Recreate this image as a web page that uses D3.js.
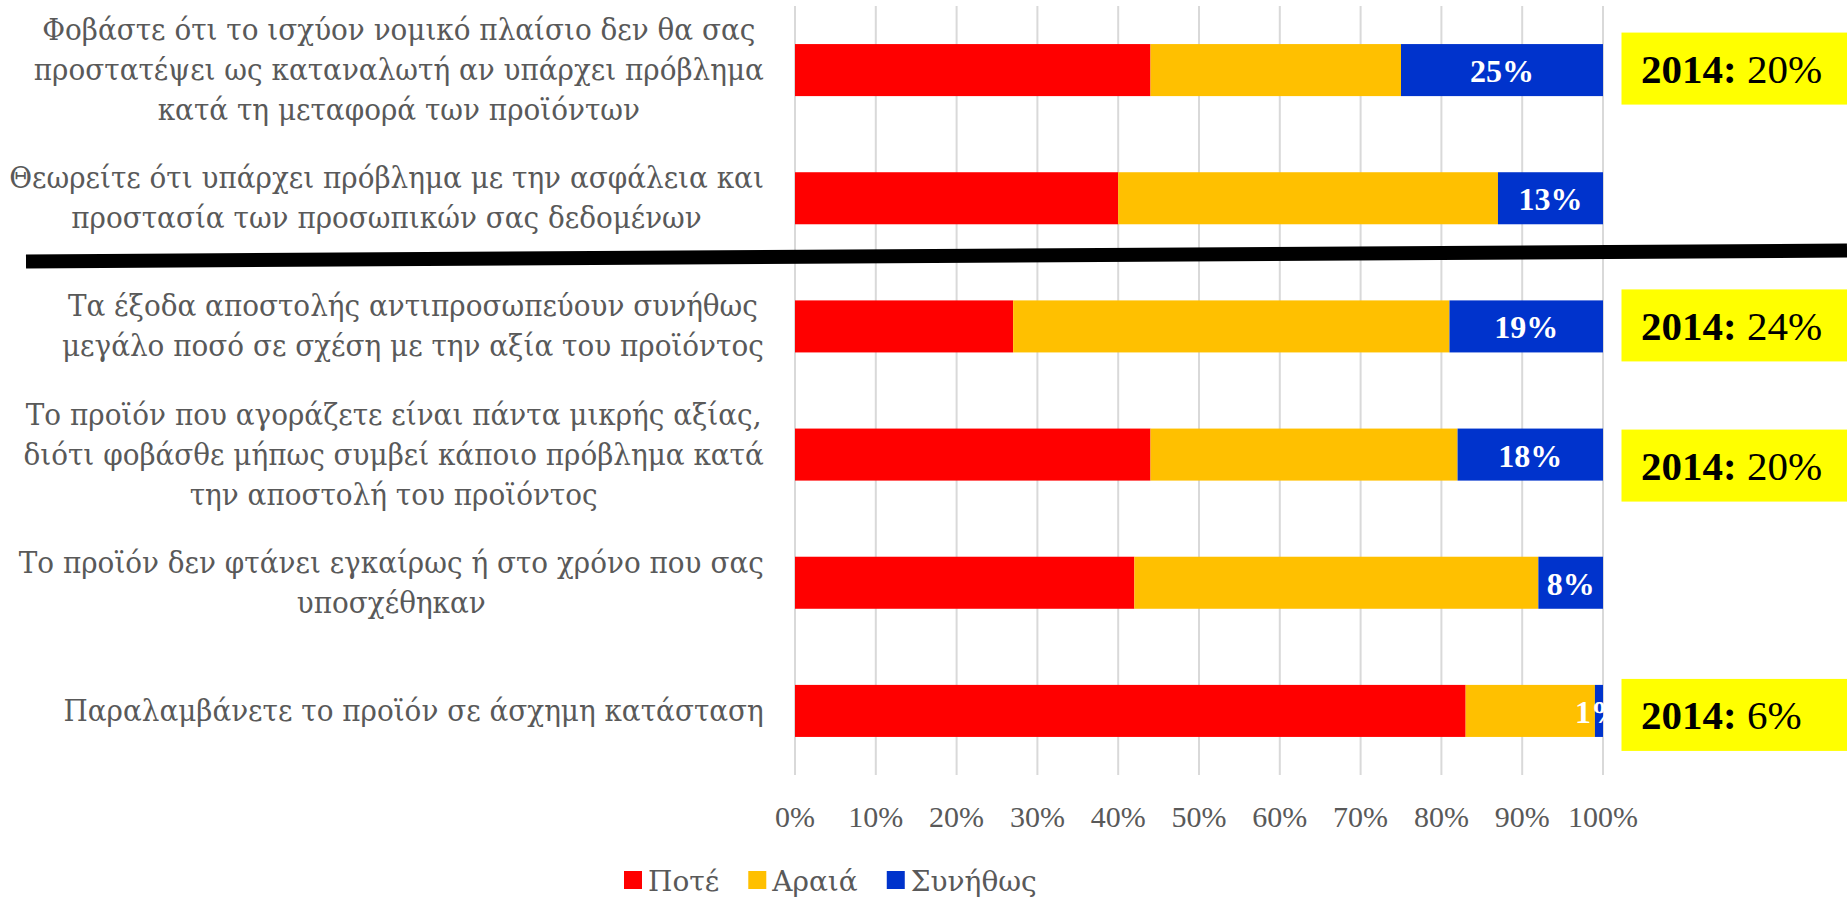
<!DOCTYPE html>
<html>
<head>
<meta charset="utf-8">
<script src="https://cdn.jsdelivr.net/npm/d3@7"></script>
<style>
  html, body { margin: 0; padding: 0; background: #fff; }
  svg { display: block; }
</style>
</head>
<body>
<svg id="chart" width="1847" height="897"></svg>
<script>
// Survey answers: how often each online-shopping concern applies (shares of respondents)
const categories = [
  ["Φοβάστε ότι το ισχύον νομικό πλαίσιο δεν θα σας", "προστατέψει ως καταναλωτή αν υπάρχει πρόβλημα", "κατά τη μεταφορά των προϊόντων"],
  ["Θεωρείτε ότι υπάρχει πρόβλημα με την ασφάλεια και", "προστασία των προσωπικών σας δεδομένων"],
  ["Τα έξοδα αποστολής αντιπροσωπεύουν συνήθως", "μεγάλο ποσό σε σχέση με την αξία του προϊόντος"],
  ["Το προϊόν που αγοράζετε είναι πάντα μικρής αξίας,", "διότι φοβάσθε μήπως συμβεί κάποιο πρόβλημα κατά", "την αποστολή του προϊόντος"],
  ["Το προϊόν δεν φτάνει εγκαίρως ή στο χρόνο που σας", "υποσχέθηκαν"],
  ["Παραλαμβάνετε το προϊόν σε άσχημη κατάσταση"]
];
const seriesNames = ["Ποτέ", "Αραιά", "Συνήθως"];
const never   = [44, 40, 27, 44, 42, 83];
const rarely  = [31, 47, 54, 38, 50, 16];
const usually = [25, 13, 19, 18, 8, 1];
const xTicks = [0, 10, 20, 30, 40, 50, 60, 70, 80, 90, 100];
// 2014 comparison values ("Συνήθως"), keyed by category index
const prevIndex = [0, 2, 3, 5];
const prevValue = [20, 24, 20, 6];

const colors = ["#FF0000", "#FFC000", "#0033CC"];
const textGray = "#595959";
const serif = "'Liberation Serif', 'Times New Roman', serif";
const greekSerif = "'DejaVu Serif', serif";

const svg = d3.select("#chart");

const x = d3.scaleLinear().domain([0, 100]).range([795, 1603]);
const y = d3.scaleBand().domain(d3.range(categories.length))
  .range([6, 775]).paddingInner(0.594).paddingOuter(0.297);

// vertical gridlines
svg.append("g").selectAll("line").data(xTicks).join("line")
  .attr("x1", d => x(d)).attr("x2", d => x(d))
  .attr("y1", 6).attr("y2", 775)
  .attr("stroke", "#D9D9D9").attr("stroke-width", 2);

// stacked bars
const rows = categories.map((c, i) => ({ i, never: never[i], rarely: rarely[i], usually: usually[i] }));
const stack = d3.stack().keys(["never", "rarely", "usually"]);
const layers = stack(rows);

svg.append("g").selectAll("g").data(layers).join("g")
  .attr("fill", (d, k) => colors[k])
  .selectAll("rect").data(d => d).join("rect")
  .attr("x", d => x(d[0]))
  .attr("width", d => x(d[1]) - x(d[0]))
  .attr("y", d => y(d.data.i))
  .attr("height", y.bandwidth());

// value labels on the "Συνήθως" segment
const usuallyLayer = layers[2];
svg.append("g").selectAll("text").data(usuallyLayer).join("text")
  .attr("x", d => (x(d[0]) + x(d[1])) / 2)
  .attr("y", d => y(d.data.i) + y.bandwidth() / 2 + 12)
  .attr("text-anchor", "middle")
  .attr("font-family", serif).attr("font-weight", "bold").attr("font-size", 32)
  .attr("fill", "#fff")
  .text(d => d.data.usually + "%");

// category labels: narrow serif, each block centred, widest line ending near the axis
const labelFont = 29, lineH = 40, labelRight = 764, labelMaxWidth = 755;
const lg = svg.append("g");
const blocks = categories.map((lines, i) => {
  const g = lg.append("g");
  const cy = y(i) + y.bandwidth() / 2;
  const t = g.selectAll("text").data(lines).join("text")
    .attr("font-family", greekSerif).attr("font-size", labelFont)
    .attr("fill", textGray).attr("text-anchor", "middle")
    .attr("y", (d, k) => cy + (k - (lines.length - 1) / 2) * lineH + 10)
    .text(d => d);
  let maxW = 0;
  t.each(function () { maxW = Math.max(maxW, this.getComputedTextLength()); });
  t.attr("x", -maxW / 2);
  return { g, maxW };
});
const widest = d3.max(blocks, b => b.maxW);
const sx = labelMaxWidth / widest;
blocks.forEach(b => b.g.attr("transform", `translate(${labelRight},0) scale(${sx},1)`));

// x-axis tick labels
svg.append("g").selectAll("text").data(xTicks).join("text")
  .attr("x", d => x(d)).attr("y", 827)
  .attr("text-anchor", "middle")
  .attr("font-family", serif).attr("font-size", 30).attr("fill", textGray)
  .text(d => d + "%");

// separator line between the two groups of questions
svg.append("line")
  .attr("x1", 26).attr("y1", 261.5).attr("x2", 1847).attr("y2", 250.5)
  .attr("stroke", "#000").attr("stroke-width", 14);

// 2014 comparison boxes
const boxNudge = [-1.5, -1, 11, 4];
const bg = svg.append("g");
prevIndex.forEach((ci, k) => {
  const cy = y(ci) + y.bandwidth() / 2 + boxNudge[k];
  bg.append("rect")
    .attr("x", 1621.5).attr("y", cy - 36).attr("width", 1847 - 1621.5).attr("height", 72)
    .attr("fill", "#FFFF00");
  const t = bg.append("text")
    .attr("x", 1641).attr("y", cy + 14.5)
    .attr("font-family", serif).attr("font-size", 41).attr("fill", "#000");
  t.append("tspan").attr("font-weight", "bold").text("2014:");
  t.append("tspan").text(" " + prevValue[k] + "%");
});

// legend
let lx = 624;
const legend = svg.append("g");
seriesNames.forEach((name, k) => {
  legend.append("rect").attr("x", lx).attr("y", 871).attr("width", 18).attr("height", 18)
    .attr("fill", colors[k]);
  const t = legend.append("text").attr("x", lx + 24).attr("y", 891)
    .attr("font-family", greekSerif).attr("font-size", 28).attr("fill", textGray).text(name);
  lx += 24 + t.node().getComputedTextLength() + 29;
});
</script>
</body>
</html>
